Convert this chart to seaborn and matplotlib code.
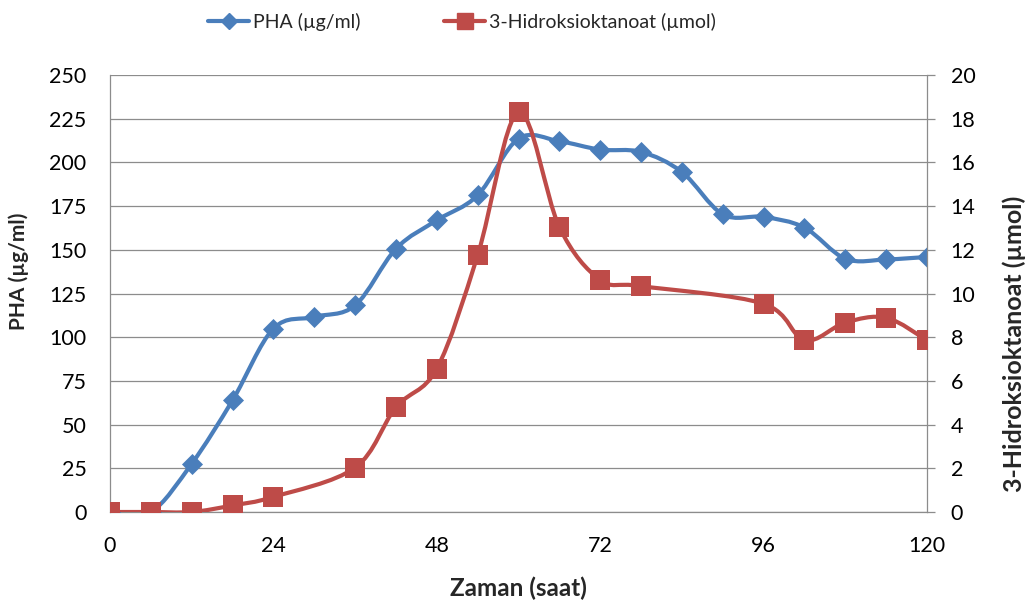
import numpy as np
import matplotlib
matplotlib.use("Agg")
import matplotlib.pyplot as plt
from matplotlib.path import Path
from matplotlib.patches import PathPatch
from matplotlib.lines import Line2D
import seaborn as sns
import pandas as pd

# Sampling times (hours)
pha_hours = [0, 6, 12, 18, 24, 30, 36, 42, 48, 54, 60, 66, 72, 78, 84, 90, 96, 102, 108, 114, 120]
# PHA concentration (µg/ml)
pha_values = [0, 0, 27.6, 63.9, 104.9, 111.6, 118.2, 150.6, 166.9, 181.2, 213.6,
              212.1, 207.3, 206.0, 194.5, 170.3, 168.8, 162.7, 144.9, 144.5, 145.9]

hoa_hours = [0, 6, 12, 18, 24, 36, 42, 48, 54, 60, 66, 72, 78, 96, 102, 108, 114, 120]
# 3-hydroxyoctanoate (µmol)
hoa_values = [0, 0, 0, 0.3, 0.69, 2.03, 4.8, 6.56, 11.75, 18.3, 13.04, 10.63, 10.34,
              9.53, 7.86, 8.67, 8.89, 7.86]

x_ticks = [0, 24, 48, 72, 96, 120]
left_ticks = list(range(0, 251, 25))
right_ticks = list(range(0, 21, 2))

label_x = "Zaman (saat)"
label_left = "PHA (µg/ml)"
label_right = "3-Hidroksioktanoat (µmol)"

BLUE = "#4a7ebb"
RED = "#be4b48"
GRID = "#8c8c8c"

sns.set_theme(style="white")
plt.rcParams["font.family"] = ["Lato", "DejaVu Sans"]


def smooth_path(xs, ys):
    """Cubic Bezier path through the points (Catmull-Rom style smoothing)."""
    pts = np.column_stack([xs, ys]).astype(float)
    n = len(pts)
    verts = [pts[0]]
    codes = [Path.MOVETO]
    for i in range(n - 1):
        p0 = pts[i - 1] if i > 0 else pts[i]
        p1 = pts[i]
        p2 = pts[i + 1]
        p3 = pts[i + 2] if i + 2 < n else pts[i + 1]
        c1 = p1 + (p2 - p0) / 6.0
        c2 = p2 - (p3 - p1) / 6.0
        verts += [c1, c2, p2]
        codes += [Path.CURVE4] * 3
    return Path(np.array(verts), codes)


fig = plt.figure(figsize=(10.28, 6.03), dpi=100)
ax = fig.add_axes([110 / 1028, 1 - 512 / 603, 817 / 1028, 437 / 603])
ax2 = ax.twinx()

df_pha = pd.DataFrame({"t": pha_hours, "v": pha_values})
df_hoa = pd.DataFrame({"t": hoa_hours, "v": hoa_values})

lw = 3.0
ax.add_patch(PathPatch(smooth_path(pha_hours, pha_values), fill=False,
                       edgecolor=BLUE, lw=lw, capstyle="round", joinstyle="round", zorder=3))
sns.scatterplot(data=df_pha, x="t", y="v", ax=ax, marker="D", s=115, color=BLUE,
                edgecolor=BLUE, linewidth=0, zorder=4, legend=False)

ax2.add_patch(PathPatch(smooth_path(hoa_hours, hoa_values), fill=False,
                        edgecolor=RED, lw=lw, capstyle="round", joinstyle="round", zorder=3))
sns.scatterplot(data=df_hoa, x="t", y="v", ax=ax2, marker="s", s=200, color=RED,
                edgecolor=RED, linewidth=0, zorder=4, legend=False)

ax.set_xlim(0, 120)
ax.set_ylim(0, 250)
ax2.set_ylim(0, 20)
ax.set_xticks(x_ticks)
ax.set_yticks(left_ticks)
ax2.set_yticks(right_ticks)

ax.grid(axis="y", color=GRID, lw=0.9)
ax.grid(axis="x", visible=False)
ax2.grid(False)

for a in (ax, ax2):
    for side in ("left", "right", "bottom"):
        a.spines[side].set_visible(True)
        a.spines[side].set_color(GRID)
        a.spines[side].set_linewidth(0.9)
    a.spines["top"].set_visible(False)
ax2.spines["left"].set_visible(False)
ax2.spines["bottom"].set_visible(False)
ax.spines["right"].set_visible(False)

fs = 15.5
ax.tick_params(axis="y", length=0, pad=17, labelsize=fs, labelcolor="black")
ax.tick_params(axis="x", length=0, pad=17, labelsize=fs, labelcolor="black")
ax2.tick_params(axis="y", direction="out", length=6, width=0.9, color=GRID,
                pad=11, labelsize=fs, labelcolor="black")

ax.set_xlabel(label_x, fontsize=17.5, fontweight="bold")
ax.set_ylabel(label_left, fontsize=15, fontweight="bold")
ax2.set_ylabel(label_right, fontsize=18, fontweight="bold", rotation=90)
ax.xaxis.set_label_coords(0.5, -0.148)
ax.yaxis.set_label_coords(-0.099, 0.551)
ax2.yaxis.set_label_coords(1.092, 0.385)

handles = [
    Line2D([], [], color=BLUE, lw=lw, marker="D", markersize=8),
    Line2D([], [], color=RED, lw=lw, marker="s", markersize=11),
]
fig.legend(handles, [label_left, label_right], loc="center", bbox_to_anchor=(462 / 1028, 1 - 22 / 603),
           ncol=2, frameon=False, fontsize=14, handlelength=2.1, handletextpad=0.2,
           columnspacing=4.3)

fig.savefig("out.png", dpi=100)
